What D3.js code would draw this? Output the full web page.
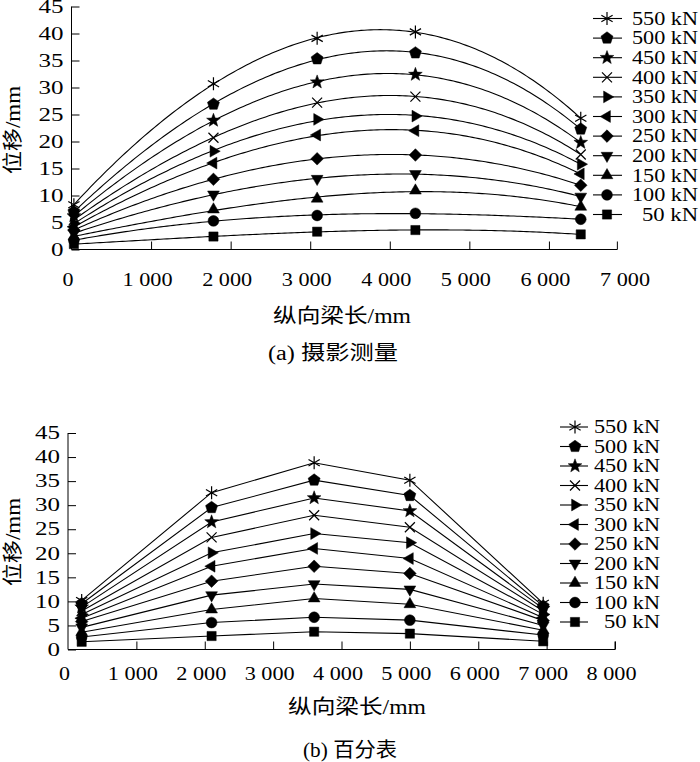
<!DOCTYPE html>
<html>
<head>
<meta charset="utf-8">
<script src="https://cdn.jsdelivr.net/npm/d3@7"></script>
<style>
  body { margin: 0; background: #fff; }
  text { font-family: "Liberation Serif", "Times New Roman", Tinos, "Noto Sans CJK SC", serif; fill: #000; }
</style>
</head>
<body>
<svg id="svg" width="700" height="762"></svg>
<script>
// data
const loads = [550, 500, 450, 400, 350, 300, 250, 200, 150, 100, 50];
const markerTypes = ["asterisk", "pentagon", "star", "x", "right", "left", "diamond", "down", "up", "circle", "square"];

// (a) photogrammetry
const photoX = [30, 1784, 3087, 4322, 6400];
const photoValues = [
    [8.3, 30.7, 39.1, 40.3, 24.3],
    [7.0, 26.9, 35.3, 36.4, 22.3],
    [6.2, 23.9, 31.0, 32.4, 19.8],
    [5.5, 20.7, 27.2, 28.3, 17.6],
    [4.8, 18.2, 24.1, 24.7, 15.8],
    [4.2, 16.0, 21.2, 22.0, 14.0],
    [3.6, 13.0, 16.8, 17.5, 11.9],
    [3.0, 10.2, 13.1, 14.0, 9.8],
    [2.4, 7.4, 9.4, 10.9, 7.9],
    [1.7, 5.3, 6.3, 6.7, 5.6],
    [1.0, 2.4, 3.3, 3.6, 2.8],
];

// (b) dial gauges
const dialX = [200, 2100, 3600, 5000, 6950];
const dialValues = [
    [10.2, 32.6, 38.8, 35.2, 9.6],
    [9.5, 29.5, 35.2, 32.0, 9.0],
    [8.8, 26.5, 31.5, 28.8, 8.5],
    [8.0, 23.3, 27.9, 25.4, 8.0],
    [7.3, 20.1, 24.1, 22.2, 7.3],
    [6.5, 17.3, 21.0, 18.9, 6.6],
    [5.8, 14.2, 17.3, 15.8, 6.0],
    [4.6, 11.3, 13.6, 12.5, 5.0],
    [3.6, 8.3, 10.6, 9.4, 4.0],
    [2.6, 5.6, 6.7, 6.1, 3.0],
    [1.6, 2.8, 3.7, 3.3, 1.7],
];

const yTicks = [0, 5, 10, 15, 20, 25, 30, 35, 40, 45];
const xTicksA = [0, 1000, 2000, 3000, 4000, 5000, 6000, 7000];
const xTicksB = [0, 1000, 2000, 3000, 4000, 5000, 6000, 7000, 8000];

const svg = d3.select("#svg");
svg.append("rect").attr("width", 700).attr("height", 762).attr("fill", "#fff");

const fmtX = (d) => (d === 0 ? "0" : d3.format(",")(d).replace(",", " "));

// the scan is stretched sideways, so text widths are fixed to the picture
const widthOf = (s, digit, space) =>
    s.split("").reduce((w, c) => w + (c === " " ? space : digit), 0);

// marker shapes
function poly(angles, r) {
    return "M" + angles.map((a) => {
        let t = (a * Math.PI) / 180;
        return [r * Math.cos(t), r * Math.sin(t)].map((v) => v.toFixed(2)).join(",");
    }).join("L") + "Z";
}

function markerPath(type) {
    switch (type) {
        case "asterisk":
            return [90, 30, 150].map((a) => {
                let t = (a * Math.PI) / 180, r = 6.5;
                return `M${r * Math.cos(t)},${r * Math.sin(t)}L${-r * Math.cos(t)},${-r * Math.sin(t)}`;
            }).join("");
        case "x":
            return "M-5,-5L5,5M-5,5L5,-5";
        case "pentagon":
            return poly([-90, -18, 54, 126, 198], 6.3);
        case "star": {
            let pts = d3.range(10).map((i) => {
                let r = i % 2 === 0 ? 7.2 : 3.0;
                let t = ((-90 + i * 36) * Math.PI) / 180;
                return `${r * Math.cos(t)},${r * Math.sin(t)}`;
            });
            return "M" + pts.join("L") + "Z";
        }
        case "right":
            return poly([0, 120, 240], 6.8);
        case "left":
            return poly([180, 300, 60], 6.8);
        case "down":
            return poly([90, 210, 330], 6.8);
        case "up":
            return poly([-90, 30, 150], 6.8);
        case "diamond":
            return poly([-90, 0, 90, 180], 6.3);
        case "circle":
            return d3.symbol(d3.symbolCircle, Math.PI * 5.4 * 5.4)();
        case "square":
            return "M-4.6,-4.6H4.6V4.6H-4.6Z";
    }
}

function drawMarker(g, type, x, y) {
    let stroked = type === "asterisk" || type === "x";
    g.append("path")
        .attr("d", markerPath(type))
        .attr("transform", `translate(${x},${y})`)
        .attr("fill", stroked ? "none" : "#000")
        .attr("stroke", "#000")
        .attr("stroke-width", stroked ? 1.2 : 0.5);
}

function fitText(g, cx, cy, str, size, len, rotate) {
    g.append("text")
        .attr("transform", `translate(${cx},${cy}) rotate(${rotate || 0})`)
        .attr("x", -len / 2)
        .attr("dy", "0.35em")
        .attr("textLength", len)
        .attr("lengthAdjust", "spacingAndGlyphs")
        .style("font-size", size + "px")
        .text(str);
}

// least squares polynomial (x in thousands of mm)
function polyfit(xs, ys, deg) {
    let n = deg + 1;
    let A = d3.range(n).map(() => d3.range(n + 1).map(() => 0));
    xs.forEach((x, k) => {
        let t = x / 1000;
        for (let i = 0; i < n; i++) {
            for (let j = 0; j < n; j++) A[i][j] += Math.pow(t, i + j);
            A[i][n] += Math.pow(t, i) * ys[k];
        }
    });
    for (let i = 0; i < n; i++) {
        let p = i;
        for (let r = i + 1; r < n; r++) if (Math.abs(A[r][i]) > Math.abs(A[p][i])) p = r;
        [A[i], A[p]] = [A[p], A[i]];
        for (let r = 0; r < n; r++) {
            if (r === i) continue;
            let f = A[r][i] / A[i][i];
            for (let c = i; c <= n; c++) A[r][c] -= f * A[i][c];
        }
    }
    let coef = A.map((row, i) => row[n] / row[i]);
    return (x) => coef.reduce((s, c, i) => s + c * Math.pow(x / 1000, i), 0);
}

function drawPanel(opts) {
    const g = svg.append("g");
    const x = d3.scaleLinear().domain([0, opts.xMax]).range(opts.xRange);
    const y = d3.scaleLinear().domain([0, 45]).range(opts.yRange);

    // y axis, ticks pointing inward
    const yAxis = g.append("g")
        .attr("transform", `translate(${opts.xRange[0]},0)`)
        .call(d3.axisLeft(y).tickValues(yTicks).tickSize(-8).tickSizeOuter(0).tickPadding(8));
    yAxis.select(".domain").attr("d", `M0,${y(45)}V${y(0)}`);
    yAxis.selectAll("text")
        .attr("textLength", (d) => widthOf(String(d), 12.5, 6))
        .attr("lengthAdjust", "spacingAndGlyphs")
        .style("font-size", "18px");

    // x axis
    const xAxis = g.append("g")
        .attr("transform", `translate(0,${opts.yRange[0]})`)
        .call(d3.axisBottom(x).tickValues(opts.xTicks).tickSize(-8).tickSizeOuter(0).tickFormat(fmtX));
    xAxis.select(".domain").attr("d", `M${opts.xRange[0]},0H${x(opts.axisEnd)}V-8`);
    xAxis.selectAll(".tick line").filter((d) => d > opts.axisEnd || d === 0).remove();
    xAxis.selectAll("text")
        .attr("x", -4)
        .attr("y", opts.labelGap)
        .attr("dy", "0.35em")
        .attr("textLength", (d) => widthOf(fmtX(d), 11, 6))
        .attr("lengthAdjust", "spacingAndGlyphs")
        .style("font-size", "18px");
    g.selectAll(".domain, .tick line").attr("stroke", "#000").attr("stroke-width", 1);
    g.selectAll(".tick text").attr("fill", "#000");

    // series lines
    const line = d3.line().x((d) => x(d[0])).y((d) => y(d[1]));
    opts.values.forEach((vals) => {
        let pts;
        if (opts.smooth) {
            let f = polyfit(opts.xs, vals, 3);
            let last = opts.xs[opts.xs.length - 1];
            pts = d3.range(0, last, 40).concat([last]).map((v) => [v, f(v)]);
        } else {
            pts = opts.xs.map((v, k) => [v, vals[k]]);
        }
        g.append("path")
            .attr("d", line(pts))
            .attr("fill", "none")
            .attr("stroke", "#000")
            .attr("stroke-width", 1.1);
    });

    // markers
    opts.values.forEach((vals, i) => {
        vals.forEach((v, k) => drawMarker(g, markerTypes[i], x(opts.xs[k]), y(v)));
    });

    // legend
    const lg = opts.legend;
    loads.forEach((load, i) => {
        let ly = lg.y0 + i * lg.step;
        let label = `${load} kN`;
        let len = String(load).length * 10 + 36;
        g.append("line")
            .attr("x1", lg.x1).attr("x2", lg.x2)
            .attr("y1", ly).attr("y2", ly)
            .attr("stroke", "#000").attr("stroke-width", 1.1);
        drawMarker(g, markerTypes[i], lg.xm, ly);
        g.append("text")
            .attr("x", lg.xt - len)
            .attr("y", ly)
            .attr("dy", "0.35em")
            .attr("textLength", len)
            .attr("lengthAdjust", "spacingAndGlyphs")
            .style("font-size", "18px")
            .text(label);
    });

    fitText(g, 12.5, opts.yTitleY, "位移/mm", 20, 88, -90);
    fitText(g, opts.xTitle[0], opts.xTitle[1], "纵向梁长/mm", 20, 138);
    fitText(g, opts.caption[0], opts.caption[1], opts.captionText, 20, opts.caption[2]);
}

drawPanel({
    xMax: 7000,
    xRange: [71.5, 628.5],
    yRange: [249.5, 6.5],
    xTicks: xTicksA,
    axisEnd: 6860,
    labelGap: 30.5,
    xs: photoX,
    values: photoValues,
    smooth: true,
    legend: { x1: 593, x2: 622, xm: 607, xt: 698, y0: 18.5, step: 19.6 },
    yTitleY: 130,
    xTitle: [342, 316],
    caption: [333, 353, 130],
    captionText: "(a) 摄影测量",
});

drawPanel({
    xMax: 8000,
    xRange: [68, 615],
    yRange: [649.5, 433],
    xTicks: xTicksB,
    axisEnd: 8000,
    labelGap: 24,
    xs: dialX,
    values: dialValues,
    smooth: false,
    legend: { x1: 560, x2: 588, xm: 575, xt: 660, y0: 427, step: 19.5 },
    yTitleY: 542,
    xTitle: [357, 707],
    caption: [350, 750, 94],
    captionText: "(b) 百分表",
});
</script>
</body>
</html>
